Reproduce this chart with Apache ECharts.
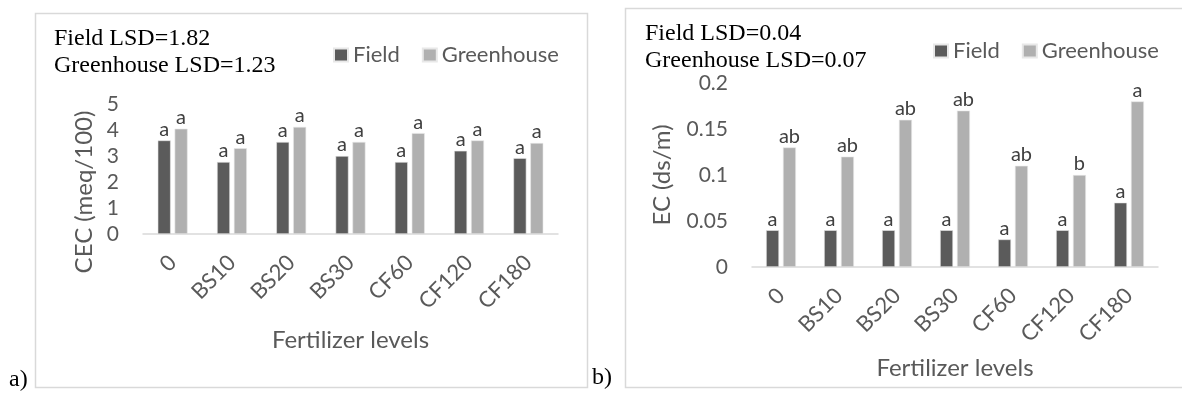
<!DOCTYPE html>
<html>
<head>
<meta charset="utf-8">
<script src="https://cdn.jsdelivr.net/npm/echarts@6/dist/echarts.min.js"></script>
<style>
html,body{margin:0;padding:0;background:#fff;}
#c{width:1182px;height:394px;}
</style>
</head>
<body>
<div id="c"></div>
<script>
var categories = ['0', 'BS10', 'BS20', 'BS30', 'CF60', 'CF120', 'CF180'];
var cecField = [3.6, 2.77, 3.54, 3.0, 2.77, 3.2, 2.92];
var cecGreenhouse = [4.05, 3.3, 4.12, 3.54, 3.88, 3.6, 3.5];
var cecFieldLetters = ['a', 'a', 'a', 'a', 'a', 'a', 'a'];
var cecGreenhouseLetters = ['a', 'a', 'a', 'a', 'a', 'a', 'a'];
var ecField = [0.04, 0.04, 0.04, 0.04, 0.03, 0.04, 0.07];
var ecGreenhouse = [0.13, 0.12, 0.16, 0.17, 0.11, 0.10, 0.18];
var ecFieldLetters = ['a', 'a', 'a', 'a', 'a', 'a', 'a'];
var ecGreenhouseLetters = ['ab', 'ab', 'ab', 'ab', 'ab', 'b', 'a'];
var seriesNames = ['Field', 'Greenhouse'];
var lsdA = ['Field LSD=1.82', 'Greenhouse LSD=1.23'];
var lsdB = ['Field LSD=0.04', 'Greenhouse LSD=0.07'];
var xTitle = 'Fertilizer levels';
var yTitleA = 'CEC (meq/100)';
var yTitleB = 'EC (ds/m)';

var FONT = 'Lato';
var TXT = '#595959';
var DARK = '#5b5b5b';
var LIGHT = '#b0b0b0';

function barSeries(name, data, letters, xi, color) {
  return {
    name: name, type: 'bar', xAxisIndex: xi, yAxisIndex: xi,
    data: data, barWidth: 13, barGap: '30%',
    itemStyle: { color: color, borderColor: '#e8e8e8', borderWidth: 0.6 },
    label: {
      show: true, position: 'top', distance: 1,
      fontFamily: FONT, fontSize: 20, color: '#404040',
      formatter: function (p) { return letters[p.dataIndex]; }
    }
  };
}

var chart = echarts.init(document.getElementById('c'), null, { renderer: 'canvas' });
var xAxisCommon = {
  type: 'category', data: categories,
  axisLine: { lineStyle: { color: '#d9d9d9', width: 1.5 } },
  axisTick: { show: false },
  axisLabel: { rotate: 45, margin: 25, fontFamily: FONT, fontSize: 22, color: TXT, interval: 0 },
  name: xTitle, nameLocation: 'middle',
  nameTextStyle: { fontFamily: FONT, fontSize: 24, color: TXT }
};
var yAxisCommon = {
  type: 'value',
  axisLine: { show: false }, axisTick: { show: false }, splitLine: { show: false },
  nameLocation: 'middle',
  axisLabel: { fontFamily: FONT, fontSize: 21, color: TXT, margin: 24 }
};

chart.setOption({
  animation: false,
  backgroundColor: '#fff',
  grid: [
    { left: 143, right: 624, top: 104, bottom: 160 },
    { left: 752, right: 24, top: 83, bottom: 127 }
  ],
  legend: [
    { data: seriesNames, left: 333, top: 44, padding: 0, itemWidth: 14, itemHeight: 13, itemGap: 22, icon: 'rect',
      textStyle: { fontFamily: FONT, fontSize: 22, color: TXT } },
    { data: seriesNames, left: 933, top: 40, padding: 0, itemWidth: 14, itemHeight: 13, itemGap: 22, icon: 'rect',
      textStyle: { fontFamily: FONT, fontSize: 22, color: TXT } }
  ],
  xAxis: [
    Object.assign({}, xAxisCommon, { gridIndex: 0, nameGap: 94 }),
    Object.assign({}, xAxisCommon, { gridIndex: 1, nameGap: 89 })
  ],
  yAxis: [
    Object.assign({}, yAxisCommon, { gridIndex: 0, min: 0, max: 5, interval: 1, name: yTitleA, nameGap: 47,
      nameTextStyle: { fontFamily: FONT, fontSize: 24, color: TXT, padding: [0, 46, 0, 0] } }),
    Object.assign({}, yAxisCommon, { gridIndex: 1, min: 0, max: 0.2, interval: 0.05, name: yTitleB, nameGap: 78,
      nameTextStyle: { fontFamily: FONT, fontSize: 24, color: TXT } })
  ],
  series: [
    barSeries('Field', cecField, cecFieldLetters, 0, DARK),
    barSeries('Greenhouse', cecGreenhouse, cecGreenhouseLetters, 0, LIGHT),
    barSeries('Field', ecField, ecFieldLetters, 1, DARK),
    barSeries('Greenhouse', ecGreenhouse, ecGreenhouseLetters, 1, LIGHT)
  ],
  color: [DARK, LIGHT],
  graphic: [
    { type: 'rect', shape: { x: 35.5, y: 13.5, width: 552, height: 374 }, style: { fill: 'none', stroke: '#d9d9d9', lineWidth: 1.5 }, z: -1 },
    { type: 'rect', shape: { x: 625.5, y: 8.5, width: 570, height: 379 }, style: { fill: 'none', stroke: '#d9d9d9', lineWidth: 1.5 }, z: -1 },
    { type: 'text', left: 54, top: 25, style: { text: lsdA[0] + '\n' + lsdA[1], font: '24px "Liberation Serif"', fill: '#000', lineHeight: 27 } },
    { type: 'text', left: 645, top: 20, style: { text: lsdB[0] + '\n' + lsdB[1], font: '24px "Liberation Serif"', fill: '#000', lineHeight: 27 } },
    { type: 'text', left: 9, top: 368, style: { text: 'a)', font: '24px "Liberation Serif"', fill: '#000' } },
    { type: 'text', left: 592, top: 366, style: { text: 'b)', font: '24px "Liberation Serif"', fill: '#000' } }
  ]
});
</script>
</body>
</html>
